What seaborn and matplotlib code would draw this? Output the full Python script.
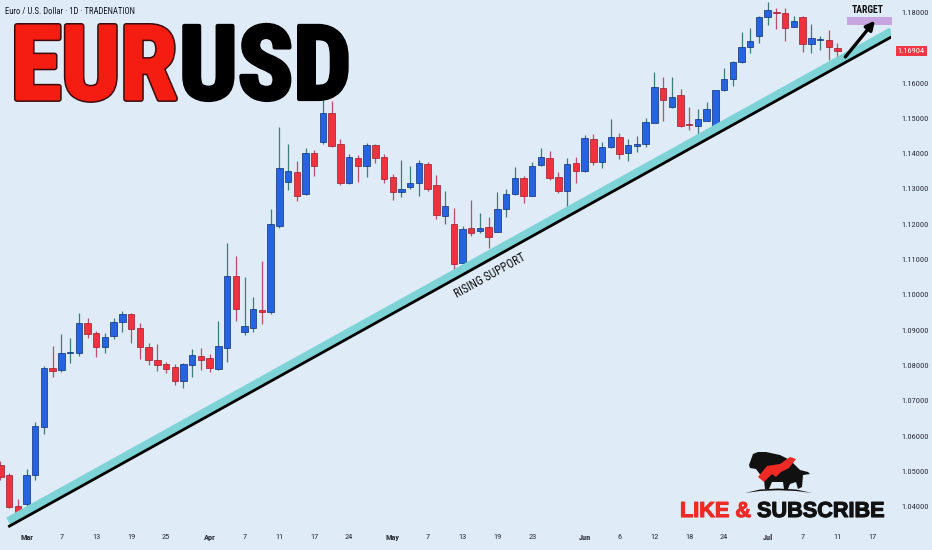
import math
import matplotlib
matplotlib.use('Agg')
import matplotlib.pyplot as plt
import matplotlib.patheffects as pe
import matplotlib.transforms as mtransforms
from matplotlib import font_manager
from matplotlib.patches import Rectangle, Polygon
import pandas as pd
import seaborn as sns

# ── Data (EURUSD daily, day 0 = Mar 3) ───────────────────────────────────────
day = list(range(-3, 94))
opens = [1.0518, 1.0490, 1.0402,
         1.0408, 1.0490, 1.0625, 1.0792, 1.0787, 1.0836, 1.0835, 1.0921, 1.0891, 1.0852,
         1.0884, 1.0923, 1.0946, 1.0905, 1.0853, 1.0816, 1.0804, 1.0797, 1.0757, 1.0801,
         1.0828, 1.0820, 1.0790, 1.0849, 1.1054, 1.0894, 1.0906, 1.0957, 1.0951, 1.1196,
         1.1321, 1.1349, 1.1285, 1.1401, 1.1432, 1.1516, 1.1427, 1.1316, 1.1389, 1.1366,
         1.1425, 1.1390, 1.1333, 1.1291, 1.1305, 1.1316, 1.1370, 1.1311, 1.1224, 1.1201,
         1.1091, 1.1189, 1.1181, 1.1193, 1.1179, 1.1242, 1.1286, 1.1330, 1.1281, 1.1368,
         1.1387, 1.1333, 1.1295, 1.1373, 1.1351, 1.1442, 1.1376, 1.1420, 1.1448, 1.1403,
         1.1423, 1.1428, 1.1488, 1.1585, 1.1533, 1.1566, 1.1484, 1.1479, 1.1493, 1.1460,
         1.1580, 1.1612, 1.1661, 1.1701, 1.1733, 1.1786, 1.1802, 1.1798, 1.1760, 1.1788,
         1.1711, 1.1722, 1.1722, 1.1700]
highs = [1.0529, 1.0496, 1.0422,
         1.0506, 1.0640, 1.0799, 1.0856, 1.0889, 1.0877, 1.0950, 1.0934, 1.0899, 1.0892,
         1.0935, 1.0955, 1.0948, 1.0921, 1.0865, 1.0861, 1.0811, 1.0803, 1.0807, 1.0846,
         1.0850, 1.0833, 1.0927, 1.1148, 1.1111, 1.1052, 1.0993, 1.1096, 1.1243, 1.1477,
         1.1428, 1.1380, 1.1415, 1.1410, 1.1574, 1.1550, 1.1442, 1.1399, 1.1396, 1.1429,
         1.1427, 1.1398, 1.1342, 1.1382, 1.1366, 1.1382, 1.1377, 1.1340, 1.1294, 1.1245,
         1.1196, 1.1269, 1.1231, 1.1222, 1.1292, 1.1299, 1.1363, 1.1337, 1.1377, 1.1417,
         1.1409, 1.1347, 1.1387, 1.1392, 1.1453, 1.1455, 1.1432, 1.1498, 1.1459, 1.1441,
         1.1450, 1.1500, 1.1632, 1.1616, 1.1616, 1.1582, 1.1531, 1.1526, 1.1547, 1.1581,
         1.1642, 1.1663, 1.1746, 1.1755, 1.1790, 1.1831, 1.1812, 1.1812, 1.1790, 1.1790,
         1.1767, 1.1732, 1.1750, 1.1714]
lows = [1.0476, 1.0396, 1.0368,
        1.0393, 1.0476, 1.0606, 1.0768, 1.0782, 1.0806, 1.0827, 1.0877, 1.0825, 1.0835,
        1.0874, 1.0896, 1.0863, 1.0818, 1.0801, 1.0784, 1.0780, 1.0745, 1.0737, 1.0767,
        1.0787, 1.0782, 1.0787, 1.0811, 1.0927, 1.0886, 1.0894, 1.0918, 1.0946, 1.1190,
        1.1297, 1.1267, 1.1283, 1.1338, 1.1428, 1.1420, 1.1311, 1.1313, 1.1319, 1.1333,
        1.1373, 1.1318, 1.1269, 1.1278, 1.1299, 1.1281, 1.1295, 1.1214, 1.1200, 1.1069,
        1.1089, 1.1168, 1.1174, 1.1134, 1.1178, 1.1222, 1.1284, 1.1259, 1.1280, 1.1366,
        1.1326, 1.1288, 1.1222, 1.1316, 1.1349, 1.1368, 1.1360, 1.1415, 1.1385, 1.1380,
        1.1405, 1.1420, 1.1486, 1.1493, 1.1529, 1.1476, 1.1467, 1.1453, 1.1492, 1.1458,
        1.1578, 1.1592, 1.1658, 1.1684, 1.1713, 1.1765, 1.1752, 1.1720, 1.1759, 1.1689,
        1.1686, 1.1694, 1.1665, 1.1665]
closes = [1.0485, 1.0400, 1.0376,
          1.0490, 1.0629, 1.0792, 1.0785, 1.0836, 1.0838, 1.0920, 1.0889, 1.0853, 1.0880,
          1.0923, 1.0946, 1.0903, 1.0853, 1.0816, 1.0801, 1.0790, 1.0756, 1.0803, 1.0830,
          1.0816, 1.0792, 1.0856, 1.1054, 1.0960, 1.0913, 1.0960, 1.0952, 1.1201, 1.1359,
          1.1352, 1.1281, 1.1401, 1.1366, 1.1516, 1.1423, 1.1316, 1.1390, 1.1366, 1.1425,
          1.1387, 1.1328, 1.1291, 1.1300, 1.1316, 1.1373, 1.1299, 1.1226, 1.1253, 1.1088,
          1.1187, 1.1174, 1.1190, 1.1165, 1.1242, 1.1285, 1.1332, 1.1281, 1.1365, 1.1390,
          1.1330, 1.1295, 1.1370, 1.1351, 1.1444, 1.1376, 1.1420, 1.1448, 1.1400, 1.1425,
          1.1428, 1.1489, 1.1588, 1.1552, 1.1561, 1.1479, 1.1481, 1.1498, 1.1526, 1.1580,
          1.1612, 1.1661, 1.1701, 1.1719, 1.1788, 1.1807, 1.1799, 1.1757, 1.1777, 1.1710,
          1.1727, 1.1723, 1.1701, 1.16904]

xtick_days = [0, 4, 8, 12, 16, 21, 25, 29, 33, 37, 42, 46, 50, 54, 58,
              64, 68, 72, 76, 80, 85, 89, 93, 97]
xtick_labels = ['Mar', '7', '13', '19', '25', 'Apr', '7', '11', '17', '24', 'May', '7',
                '13', '19', '23', 'Jun', '6', '12', '18', '24', 'Jul', '7', '11', '17']
month_labels = ['Mar', 'Apr', 'May', 'Jun', 'Jul']
ytick_values = [1.04, 1.05, 1.06, 1.07, 1.08, 1.09, 1.10, 1.11, 1.12,
                1.13, 1.14, 1.15, 1.16, 1.17, 1.18]
ytick_shown = [1.04, 1.05, 1.06, 1.07, 1.08, 1.09, 1.10, 1.11, 1.12,
               1.13, 1.14, 1.15, 1.16, 1.18]

support_day = [-2.1, 99.2]
support_price = [1.0343, 1.1731]
target_day = [94.1, 99.2]
target_price = [1.1765, 1.1787]
arrow_from = (93.9, 1.1674)
arrow_to = (97.3, 1.1777)
last_price = 1.16904

# ── Style ─────────────────────────────────────────────────────────────────────
BG = '#dfebf7'
UP, UP_EDGE, UP_WICK = '#2563e0', '#0e2f78', '#3d7d78'
DN, DN_EDGE, DN_WICK = '#f0323f', '#9c1b2c', '#b8506e'

sns.set_style('white', {'axes.facecolor': BG, 'figure.facecolor': BG})
installed = {f.name for f in font_manager.fontManager.ttflist}
narrow = next((f for f in ['Liberation Sans Narrow', 'Roboto Condensed', 'Liberation Sans']
               if f in installed), 'DejaVu Sans')
wide = 'Liberation Sans' if 'Liberation Sans' in installed else 'DejaVu Sans'
plt.rcParams['font.family'] = [narrow, 'DejaVu Sans']

W, H = 932, 550
fig = plt.figure(figsize=(W / 100, H / 100), dpi=100)
ax = fig.add_axes([0, 1 - 528 / H, 891 / W, 528 / H])
ax.set_facecolor(BG)

# candles
df = pd.DataFrame({'day': day, 'open': opens, 'high': highs, 'low': lows, 'close': closes})
up = df['close'] >= df['open']
body_lo = df[['open', 'close']].min(axis=1)
body_h = (df['close'] - df['open']).abs().clip(lower=0.00025)
ax.vlines(df['day'], df['low'], df['high'],
          colors=[UP_WICK if u else DN_WICK for u in up], linewidth=0.9, zorder=2)
ax.bar(df['day'], body_h, bottom=body_lo, width=0.74,
       color=[UP if u else DN for u in up],
       edgecolor=[UP_EDGE if u else DN_EDGE for u in up], linewidth=0.5, zorder=3)

# rising support: cyan band + black line
sup = pd.DataFrame({'day': support_day, 'price': support_price})
band = sup.assign(price=sup['price'] + 0.0016)
sns.lineplot(data=band, x='day', y='price', color='#7dd3d6', linewidth=5.8,
             solid_capstyle='butt', ax=ax, zorder=4)
sns.lineplot(data=sup, x='day', y='price', color='black', linewidth=2.0,
             solid_capstyle='butt', ax=ax, zorder=5)

# target box + arrow
ax.add_patch(Rectangle((target_day[0], target_price[0]), target_day[1] - target_day[0],
                       target_price[1] - target_price[0], facecolor='#c6a5e0',
                       edgecolor='none', zorder=4, clip_on=False))
ax.text(sum(target_day) / 2 - 0.2, target_price[1] + 0.0007, 'TARGET', ha='center',
        va='bottom', fontsize=7, fontweight='bold', color='#111111', zorder=6)
ax.annotate('', xy=arrow_to, xytext=arrow_from,
            arrowprops=dict(arrowstyle='-|>', color='black', lw=2.4, mutation_scale=13,
                            shrinkA=0, shrinkB=0), zorder=6)

# axes limits and ticks
ax.set_xlim(-3.04, 99.14)
ax.set_ylim(1.03396, 1.18354)
for s in ax.spines.values():
    s.set_visible(False)
ax.set_xlabel('')
ax.set_ylabel('')
ax.set_xticks(xtick_days)
ax.set_xticklabels(xtick_labels)
for lab in ax.get_xticklabels():
    if lab.get_text() in month_labels:
        lab.set_fontweight('bold')
ax.tick_params(axis='x', length=0, pad=4.0, labelsize=6, labelcolor='#2a2e39')
ax.yaxis.tick_right()
ax.set_yticks(ytick_values)
ax.set_yticklabels([f'{v:.5f}' if v in ytick_shown else '' for v in ytick_values])
ax.tick_params(axis='y', length=0, pad=7.5, labelsize=6, labelcolor='#2a2e39')
ax.grid(False)

# last price tag
blend = mtransforms.blended_transform_factory(ax.transAxes, ax.transData)
ax.text(1.0075, last_price, f'{last_price:.5f}', transform=blend, ha='left', va='center',
        fontsize=6, color='white', zorder=7, clip_on=False,
        bbox=dict(boxstyle='square,pad=0.25', facecolor='#f23645', edgecolor='none'))

# rising support label
p1 = ax.transData.transform((support_day[0], support_price[0]))
p2 = ax.transData.transform((support_day[1], support_price[1]))
angle = math.degrees(math.atan2(p2[1] - p1[1], p2[0] - p1[0]))
ax.text(53.2, 1.1053, 'RISING SUPPORT', rotation=angle, rotation_mode='anchor',
        ha='center', va='center', fontsize=8.4, color='#111111', zorder=6)

# header texts
fig.text(5 / W, 1 - 11 / H, 'Euro / U.S. Dollar \u00b7 1D \u00b7 TRADENATION',
         ha='left', va='center', fontsize=6.2, color='#131722')

t1 = fig.text(11 / W, 1 - 99 / H, 'EUR', ha='left', va='baseline', fontsize=74,
              fontweight='bold', color='#f51c12', zorder=10,
              path_effects=[pe.Stroke(linewidth=4.2, foreground='#3b0b0b'),
                            pe.Stroke(linewidth=2.0, foreground='#f51c12'), pe.Normal()])
fig.canvas.draw()
bb = t1.get_window_extent(fig.canvas.get_renderer())
fig.text((bb.x1 + 2) / W, 1 - 99 / H, 'USD', ha='left', va='baseline', fontsize=74,
         fontweight='bold', color='black', zorder=10,
         path_effects=[pe.Stroke(linewidth=3.0, foreground='black'), pe.Normal()])

# subscribe badge: simple bull silhouette + text
fx = lambda x: x / W
fy = lambda y: 1 - y / H
bull = [(749, 465), (753, 454), (758, 452), (766, 452), (780, 455), (790, 460),
        (800, 470), (808, 472), (810, 474), (803, 475), (802, 487), (798, 489),
        (796, 482), (790, 484), (788, 489), (784, 489), (783, 482), (772, 482),
        (769, 489), (765, 489), (764, 480), (759, 473), (756, 469), (750, 468)]
fig.patches.append(Polygon([(fx(x), fy(y)) for x, y in bull], closed=True,
                           transform=fig.transFigure, facecolor='#111111',
                           edgecolor='none', zorder=9))
swoosh = [(758, 477), (767, 466), (780, 464), (790, 457), (796, 459), (789, 468),
          (781, 472), (776, 477), (772, 474), (764, 482)]
fig.patches.append(Polygon([(fx(x), fy(y)) for x, y in swoosh], closed=True,
                           transform=fig.transFigure, facecolor='#ee2a24',
                           edgecolor='none', zorder=10))
ground = [(745, 493), (760, 489.5), (778, 488.5), (796, 489.5), (812, 493),
          (796, 491), (778, 490.3), (760, 491)]
fig.patches.append(Polygon([(fx(x), fy(y)) for x, y in ground], closed=True,
                           transform=fig.transFigure, facecolor='#111111',
                           edgecolor='none', zorder=9))

t2 = fig.text(680 / W, 1 - 517 / H, 'LIKE & ', ha='left', va='baseline', fontsize=15.6,
              fontweight='bold', family=[wide, 'DejaVu Sans'], color='#ee2a24', zorder=10,
              path_effects=[pe.Stroke(linewidth=0.8, foreground='#ee2a24'), pe.Normal()])
fig.canvas.draw()
bb2 = t2.get_window_extent(fig.canvas.get_renderer())
fig.text(bb2.x1 / W, 1 - 517 / H, 'SUBSCRIBE', ha='left', va='baseline', fontsize=15.6,
         fontweight='bold', family=[wide, 'DejaVu Sans'], color='#111111', zorder=10,
         path_effects=[pe.Stroke(linewidth=0.8, foreground='#111111'), pe.Normal()])

fig.savefig('out.png', dpi=100, facecolor=BG)
